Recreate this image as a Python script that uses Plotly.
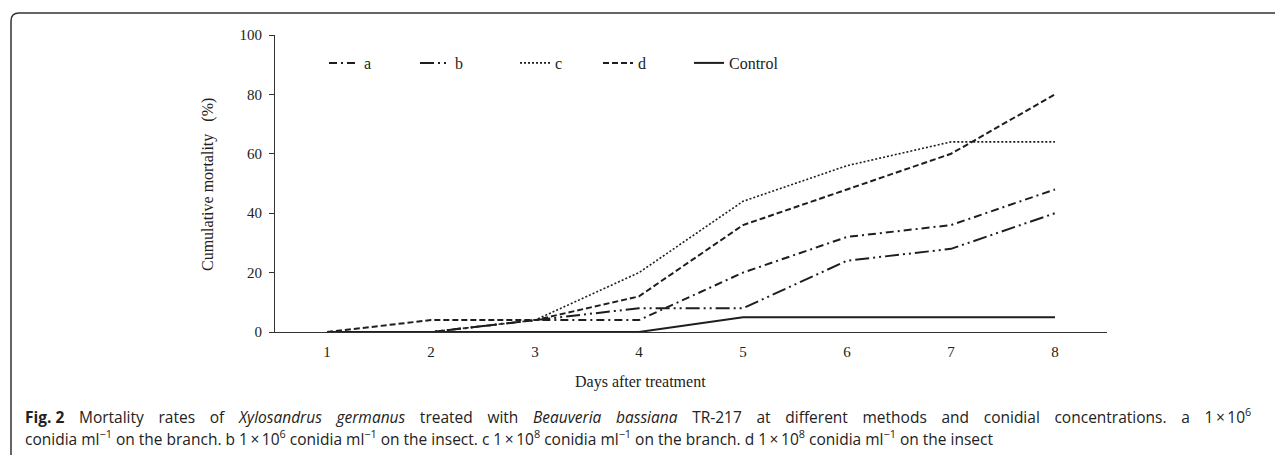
import plotly.graph_objects as go

# ---- data ----
days = [1, 2, 3, 4, 5, 6, 7, 8]
series_a = [0, 0, 4, 4, 20, 32, 36, 48]
series_b = [0, 0, 4, 8, 8, 24, 28, 40]
series_c = [0, 0, 4, 20, 44, 56, 64, 64]
series_d = [0, 4, 4, 12, 36, 48, 60, 80]
series_control = [0, 0, 0, 0, 5, 5, 5, 5]
series_names = ["a", "b", "c", "d", "Control"]
y_ticks = [0, 20, 40, 60, 80, 100]

# page has an 8px body margin -> figure is 8px smaller, coordinates shifted by 8
W, H = 1275, 447
L, T = 267, 27
PR, PB = 1099, 324
R, B = W - PR, H - PB
PW, PH = PR - L, PB - T


def px2x(px):
    return (px - L) / PW


def py2y(py):
    return (PB - py) / PH


SERIF = "Liberation Serif, Times New Roman, serif"
INK = "#1e1e1e"

styles = [
    dict(width=2, dash="8px,4px,2px,4px"),
    dict(width=2, dash="14px,4px,2px,4px,2px,4px"),
    dict(width=1.6, dash="2px,2px"),
    dict(width=2, dash="6px,3px"),
    dict(width=2, dash="solid"),
]
all_series = [series_a, series_b, series_c, series_d, series_control]
legend_ids = ["legend", "legend2", "legend3", "legend4", "legend5"]
legend_px = [316, 407, 507, 590, 681]

fig = go.Figure()
for name, vals, st, lid in zip(series_names, all_series, styles, legend_ids):
    fig.add_trace(go.Scatter(
        x=days, y=vals, name=name, mode="lines", legend=lid,
        line=dict(color=INK, width=st["width"], dash=st["dash"]),
    ))

legend_layout = {}
for lid, lx in zip(legend_ids, legend_px):
    legend_layout[lid] = dict(
        orientation="h", x=px2x(lx), y=py2y(55), xanchor="left", yanchor="middle",
        bgcolor="rgba(0,0,0,0)", font=dict(family=SERIF, size=16, color="#222"),
    )

fig.update_layout(
    width=W, height=H,
    margin=dict(l=L, r=R, t=T, b=B),
    paper_bgcolor="white", plot_bgcolor="white",
    font=dict(family=SERIF, size=15, color="#222"),
    showlegend=True,
    xaxis=dict(
        range=[0.5, 8.5], tickvals=days, ticktext=[str(d) for d in days],
        showline=True, linecolor="#333", linewidth=1, ticks="",
        showgrid=False, zeroline=False, ticklabelstandoff=6,
        tickfont=dict(family=SERIF, size=15, color="#222"),
    ),
    yaxis=dict(
        range=[0, 100], tickvals=y_ticks, showline=True, linecolor="#333", linewidth=1,
        ticks="outside", ticklen=5, tickcolor="#333", showgrid=False, zeroline=False,
        tickfont=dict(family=SERIF, size=15, color="#222"), ticklabelstandoff=4,
    ),
    **legend_layout,
)

# axis titles
fig.add_annotation(
    text="Days after treatment", xref="paper", yref="paper",
    x=px2x(632), y=py2y(374), xanchor="center", yanchor="middle", showarrow=False,
    font=dict(family=SERIF, size=16, color="#222"),
)
fig.add_annotation(
    text="Cumulative mortality\u00a0\u00a0\u00a0(%)", xref="paper", yref="paper",
    x=px2x(200), y=py2y(177), xanchor="center", yanchor="middle", showarrow=False,
    textangle=-90, font=dict(family=SERIF, size=16, color="#222"),
)

# caption (first line justified by widened word gaps)
CAP = "Open Sans, Noto Sans, sans-serif"
G = " \u00a0\u00a0\u2009"
words1 = ["<b>Fig. 2</b>", "Mortality", "rates", "of", "<i>Xylosandrus", "germanus</i>",
          "treated", "with", "<i>Beauveria", "bassiana</i>", "TR-217", "at", "different",
          "methods", "and", "conidial", "concentrations.", "a",
          "1\u2009×\u200910<sup>6</sup>"]
line1 = G.join(words1)
line2 = ("conidia ml<sup>−1</sup> on the branch. b 1\u2009×\u200910<sup>6</sup> conidia ml<sup>−1</sup> "
         "on the insect. c 1\u2009×\u200910<sup>8</sup> conidia ml<sup>−1</sup> on the branch. "
         "d 1\u2009×\u200910<sup>8</sup> conidia ml<sup>−1</sup> on the insect")
for txt, yy in [(line1, 408), (line2, 430)]:
    fig.add_annotation(
        text=txt, xref="paper", yref="paper", x=px2x(15), y=py2y(yy),
        xanchor="left", yanchor="middle", showarrow=False, align="left",
        font=dict(family=CAP, size=15.5, color="#222"),
    )

# rounded frame (top and left edges)
r = 8
x0, y0 = 3, 5
path = (f"M {px2x(x0)} {py2y(H + 5)} L {px2x(x0)} {py2y(y0 + r)} "
        f"Q {px2x(x0)} {py2y(y0)} {px2x(x0 + r)} {py2y(y0)} L {px2x(W + 5)} {py2y(y0)}")
fig.add_shape(type="path", path=path, xref="paper", yref="paper",
              line=dict(color="#333", width=1.5))

fig.write_html("out.html")
